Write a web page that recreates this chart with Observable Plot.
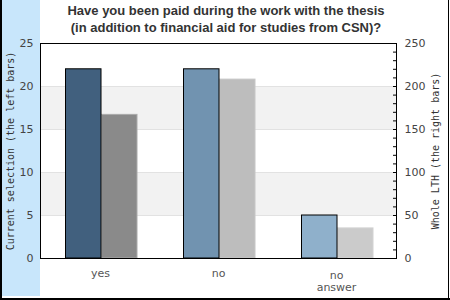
<!DOCTYPE html>
<html><head><meta charset="utf-8">
<script src="https://cdn.jsdelivr.net/npm/d3@7"></script>
<script src="https://cdn.jsdelivr.net/npm/@observablehq/plot@0.6"></script>
<style>
html,body{margin:0;padding:0;background:#fff;}
#wrap{position:relative;width:450px;height:300px;overflow:hidden;background:#fff;}
#strip{position:absolute;left:2px;top:0;width:38px;height:296px;background:#c8e6fb;}
#title{position:absolute;left:30px;width:392px;top:3px;text-align:center;font:bold 13px "Liberation Sans",Arial,sans-serif;line-height:16.5px;color:#333;z-index:2;}
.bd{position:absolute;background:#000;z-index:3;}
#chart{position:absolute;left:0;top:0;z-index:1;}
</style></head>
<body>
<div id="wrap">
  <div id="strip"></div>
  <div id="chart"></div>
  <div id="title">Have you been paid during the work with the thesis<br>(in addition to financial aid for studies from CSN)?</div>
  <div class="bd" style="left:0;top:0;width:2px;height:300px"></div>
  <div class="bd" style="right:1px;top:0;width:1px;height:300px"></div>
  <div class="bd" style="left:0;bottom:0;width:450px;height:2px"></div>
</div>
<script>
const categories = ["yes", "no", "no answer"];
const tickLabels = ["yes", "no", "no\nanswer"];
const currentSelection = [22, 22, 5];      // left axis
const wholeLTH = [167, 208, 35];           // right axis
const leftTicks = [0, 5, 10, 15, 20, 25];
const rightTicks = [0, 50, 100, 150, 200, 250];
const rightMinorTicks = [0,10,20,30,40,50,60,70,80,90,100,110,120,130,140,150,160,170,180,190,200,210,220,230,240,250];
const bandRanges = [[5, 10], [15, 20]];
const gridLines = [5, 10, 15, 20];
const leftTitle = "Current selection (the left bars)";
const rightTitle = "Whole LTH (the right bars)";

const leftColors = ["#41607e", "#7193b0", "#8fb0cb"];
const rightColors = ["#8a8a8a", "#bdbdbd", "#cbcbcb"];
const rightStrokes = ["#aaaaaa", "#c6c6c6", "#d2d2d2"];

const ratio = 10; // right axis units per left axis unit
const leftRows = categories.map((c, i) => ({cat: c, v: currentSelection[i], fill: leftColors[i]}));
const rightRows = categories.map((c, i) => ({cat: c, v: wholeLTH[i] / ratio, fill: rightColors[i], stroke: rightStrokes[i]}));
const labelOf = new Map(categories.map((c, i) => [c, tickLabels[i]]));

const chart = Plot.plot({
  width: 450,
  height: 300,
  marginLeft: 40,
  marginRight: 54,
  marginTop: 43,
  marginBottom: 42,
  style: {background: "transparent", fontFamily: "DejaVu Sans", fontSize: "11px", color: "#444"},
  x: {type: "band", domain: categories, padding: 0, axis: null, label: null},
  y: {domain: [0, 25], axis: null, label: null},
  marks: [
    Plot.rectY(bandRanges, {y1: d => d[0], y2: d => d[1], fill: "#f2f2f2"}),
    Plot.ruleY(gridLines, {stroke: "#e2e2e2", strokeWidth: 1}),
    Plot.barY(rightRows, {x: "cat", y: "v", fill: "fill", stroke: "stroke", insetLeft: 60.5, insetRight: 22}),
    Plot.barY(leftRows, {x: "cat", y: "v", fill: "fill", stroke: "#000", strokeWidth: 1, insetLeft: 24.5, insetRight: 58}),
    Plot.frame({stroke: "#000", strokeWidth: 1}),
    Plot.axisY(leftTicks, {anchor: "left", label: null, tickSize: 0, tickPadding: 7, fill: "#444", fontSize: 11}),
    Plot.axisY(rightMinorTicks.map(v => v / ratio), {anchor: "right", label: null, tickSize: -4, tickFormat: () => "", stroke: "#000"}),
    Plot.axisY(rightTicks.map(v => v / ratio), {anchor: "right", label: null, tickSize: 0, tickPadding: 8, tickFormat: d => String(Math.round(d * ratio)), fill: "#444", fontSize: 11}),
    Plot.axisX(categories.slice(0, 2), {anchor: "bottom", label: null, tickSize: 0, tickPadding: 11, tickFormat: d => labelOf.get(d), fill: "#555", fontSize: 11, lineAnchor: "top"}),
    Plot.axisX(categories.slice(2), {anchor: "bottom", label: null, tickSize: 0, tickPadding: 12, tickFormat: d => labelOf.get(d), fill: "#555", fontSize: 11, lineAnchor: "top", lineHeight: 1.1}),
    Plot.text([leftTitle], {frameAnchor: "left", textAnchor: "middle", rotate: -90, dx: -30, fontFamily: "DejaVu Sans Mono", fontSize: 10, fill: "#333", text: d => d}),
    Plot.text([rightTitle], {frameAnchor: "right", textAnchor: "middle", rotate: -90, dx: 39, fontFamily: "DejaVu Sans Mono", fontSize: 10, fill: "#333", text: d => d})
  ]
});
document.getElementById("chart").appendChild(chart);
</script>
</body></html>
